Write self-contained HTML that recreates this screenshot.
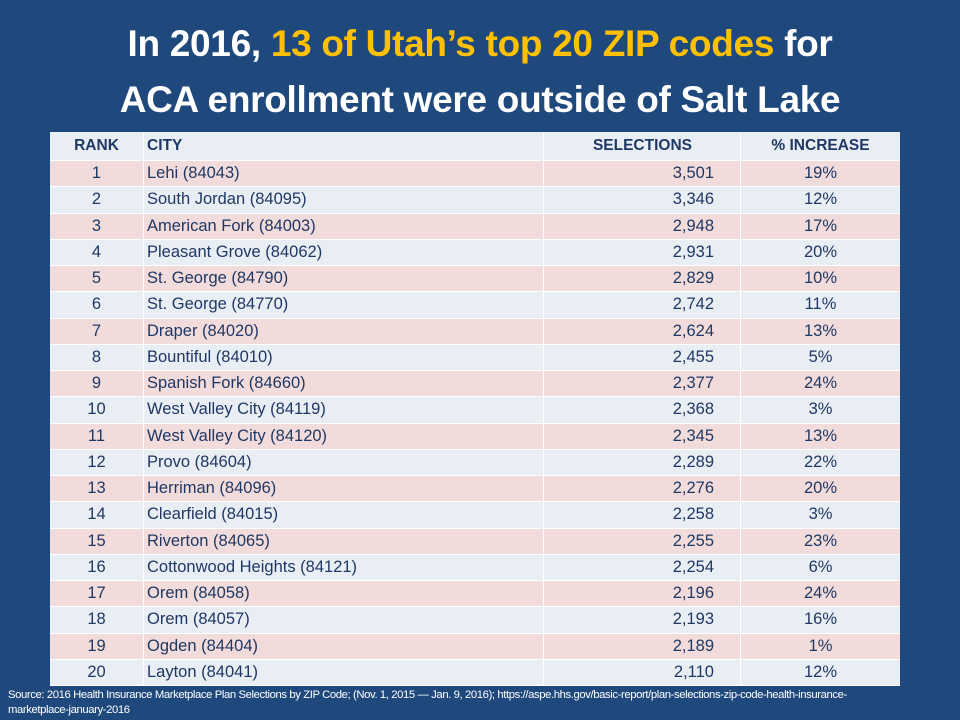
<!DOCTYPE html>
<html><head><meta charset="utf-8"><style>
body{margin:0;width:960px;height:720px;background:#1f497d;font-family:"Liberation Sans",sans-serif;overflow:hidden;position:relative}
.title{position:absolute;left:0;top:16px;width:960px;text-align:center;color:#fff;font-weight:bold;font-size:37px;line-height:56px;letter-spacing:-0.3px}
.title span{color:#ffc000}
#tb{position:absolute;left:50px;top:132px;width:850px;color:#1f3864;font-size:16.5px}
.row{position:absolute;left:0;width:850px;box-sizing:border-box;border-bottom:1px solid #fff}
.row div{position:absolute;top:0;height:100%;box-sizing:border-box;border-left:1px solid #fff;display:flex;align-items:center}
.c1{left:0;width:93px;justify-content:center;border-left:none!important}
.c2{left:93px;width:400px;padding-left:3px}
.c3{left:493px;width:197px;justify-content:flex-end;padding-right:26px}
.c4{left:690px;width:160px;justify-content:center}
.hdr{background:#e9edf4;font-weight:bold;font-size:15.5px}
.src{position:absolute;left:8px;top:688px;color:#fff;font-size:11.3px;line-height:15px;width:940px;letter-spacing:-0.4px}
</style></head><body>
<div class="title">In 2016, <span>13 of Utah’s top 20 ZIP codes</span> for<br>ACA enrollment were outside of Salt Lake</div>
<div id="tb">
<div class="row hdr" style="top:0;height:29px"><div class="c1">RANK</div><div class="c2">CITY</div><div class="c3" style="padding-right:48px">SELECTIONS</div><div class="c4">% INCREASE</div></div>
</div>
<div class="src">Source: 2016 Health Insurance Marketplace Plan Selections by ZIP Code; (Nov. 1, 2015 — Jan. 9, 2016); https://aspe.hhs.gov/basic-report/plan-selections-zip-code-health-insurance-<br>marketplace-january-2016</div>
<script>
const cities=["Lehi (84043)","South Jordan (84095)","American Fork (84003)","Pleasant Grove (84062)","St. George (84790)","St. George (84770)","Draper (84020)","Bountiful (84010)","Spanish Fork (84660)","West Valley City (84119)","West Valley City (84120)","Provo (84604)","Herriman (84096)","Clearfield (84015)","Riverton (84065)","Cottonwood Heights (84121)","Orem (84058)","Orem (84057)","Ogden (84404)","Layton (84041)"];
const selections=["3,501","3,346","2,948","2,931","2,829","2,742","2,624","2,455","2,377","2,368","2,345","2,289","2,276","2,258","2,255","2,254","2,196","2,193","2,189","2,110"];
const increases=["19%","12%","17%","20%","10%","11%","13%","5%","24%","3%","13%","22%","20%","3%","23%","6%","24%","16%","1%","12%"];
const tb=document.getElementById('tb');
const rowH=26.25;
cities.forEach((c,i)=>{
const tr=document.createElement('div');
tr.className='row';
tr.style.top=(29+i*rowH)+'px';
tr.style.height=rowH+'px';
tr.style.background=(i%2===0)?'#f2dcdb':'#e9edf4';


[[String(i+1),'c1'],[c,'c2'],[selections[i],'c3'],[increases[i],'c4']].forEach(([t,cl])=>{
const td=document.createElement('div');td.className=cl;td.textContent=t;


tr.appendChild(td);});
tb.appendChild(tr);});
</script>
</body></html>
